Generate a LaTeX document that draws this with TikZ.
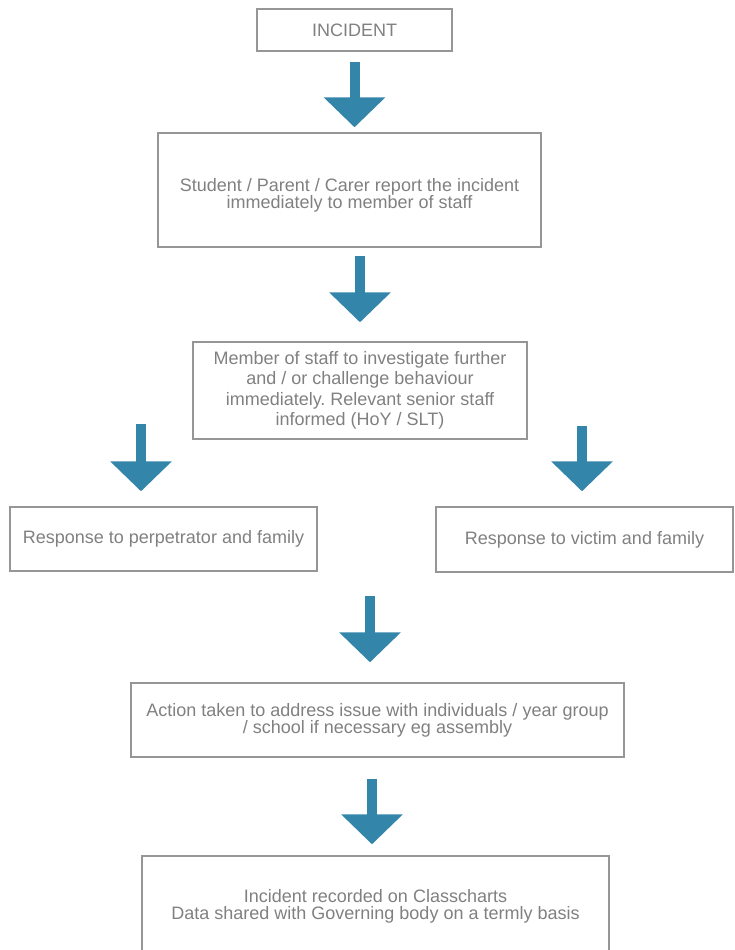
\documentclass[tikz,border=0pt]{standalone}
\usepackage{fontspec}
\setmainfont{Liberation Sans}
\usetikzlibrary{arrows.meta}
\definecolor{flowblue}{RGB}{52,133,170}
\definecolor{boxgray}{RGB}{150,150,150}
\definecolor{textgray}{RGB}{128,128,128}
\frenchspacing

\begin{document}
\begin{tikzpicture}[x=1pt,y=-1pt,
    stepbox/.style={draw=boxgray,line width=1.4pt,inner sep=0pt,align=center,
      text=textgray,font=\fontsize{18}{17}\selectfont},
    flow/.style={draw=flowblue,line width=10pt,-{Triangle[width=60pt,length=30pt]}}]
  \clip (0,0) rectangle (734,950);
  % boxes
  \node[stepbox,minimum width=195pt,minimum height=42pt] (incident) at (354.5,30) {INCIDENT};
  \node[stepbox,minimum width=383pt,minimum height=114pt,text height=40pt] (report) at (349.5,190)
    {Student / Parent / Carer report the incident\\immediately to member of staff};
  \node[stepbox,minimum width=334pt,minimum height=97pt,
    font=\fontsize{18}{20.5}\selectfont] (staff) at (360,390.5)
    {Member of staff to investigate further\\and / or challenge behaviour\\
     immediately. Relevant senior staff\\informed (HoY / SLT)};
  \node[stepbox,minimum width=307pt,minimum height=64pt] (perp) at (163.5,539)
    {Response to perpetrator and family};
  \node[stepbox,minimum width=297pt,minimum height=65pt] (victim) at (584.5,539.5)
    {Response to victim and family};
  \node[stepbox,minimum width=493pt,minimum height=74pt] (action) at (377.5,720)
    {Action taken to address issue with individuals / year group\\/ school if necessary eg assembly};
  \node[stepbox,minimum width=467pt,minimum height=101pt] (record) at (375.5,906.5)
    {Incident recorded on Classcharts\\Data shared with Governing body on a termly basis};
  % arrows
  \draw[flow] ([yshift=-10pt]incident.south) -- ([yshift=5pt]incident.south |- report.north);
  \draw[flow] ([yshift=-8pt]staff.north |- report.south) -- ([yshift=19pt]staff.north);
  \draw[flow] ([xshift=-22.5pt,yshift=82pt]perp.north) -- ([xshift=-22.5pt,yshift=15pt]perp.north);
  \draw[flow] ([xshift=-2.5pt,yshift=80pt]victim.north) -- ([xshift=-2.5pt,yshift=15pt]victim.north);
  \draw[flow] ([xshift=-7.5pt,yshift=86pt]action.north) -- ([xshift=-7.5pt,yshift=20pt]action.north);
  \draw[flow] ([xshift=-3.5pt,yshift=-21pt]record.north |- action.south) -- ([xshift=-3.5pt,yshift=11pt]record.north);
\end{tikzpicture}
\end{document}
